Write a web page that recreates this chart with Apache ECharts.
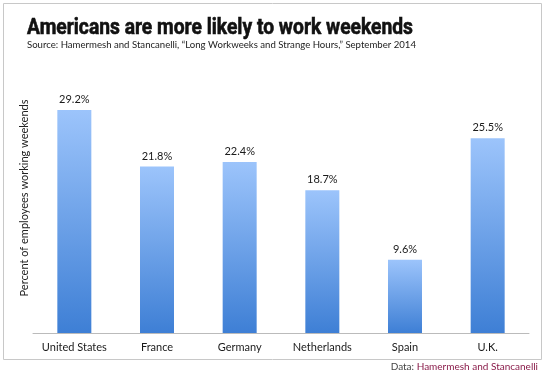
<!DOCTYPE html>
<html>
<head>
<meta charset="utf-8">
<script src="https://cdn.jsdelivr.net/npm/echarts@6/dist/echarts.min.js"></script>
<style>
  html, body { margin: 0; padding: 0; background: #fff; }
  #chart { width: 550px; height: 377px; }
</style>
</head>
<body>
<div id="chart"></div>
<script>
// data
const countries = ["United States", "France", "Germany", "Netherlands", "Spain", "U.K."];
const weekendShare = [29.2, 21.8, 22.4, 18.7, 9.6, 25.5];

const titleText = "Americans are more likely to work weekends";
const titleFont = "bold 22px Roboto";

// squeeze the title to the condensed width of the original
const ctx = document.createElement("canvas").getContext("2d");
ctx.font = titleFont;
const titleScale = 386 / ctx.measureText(titleText).width;

const chart = echarts.init(document.getElementById("chart"));

const option = {
  animation: false,
  graphic: [
    {
      type: "rect",
      shape: { x: 3.5, y: 3.5, width: 538, height: 356 },
      style: { fill: "none", stroke: "#c8c8c8", lineWidth: 1 },
      z: -1,
    },
    {
      type: "text",
      x: 27,
      y: 28,
      scaleX: titleScale,
      style: {
        text: titleText,
        font: titleFont,
        fill: "#111",
        verticalAlign: "middle",
        stroke: "#111",
        lineWidth: 0.6,
      },
    },
    {
      type: "text",
      left: 27,
      top: 40,
      style: {
        text: "Source: Hamermesh and Stancanelli, \u201cLong Workweeks and Strange Hours,\u201d September 2014",
        font: "9.6px Lato",
        fill: "#222",
      },
    },
    {
      type: "text",
      x: 24,
      y: 198,
      rotation: Math.PI / 2,
      style: {
        text: "Percent of employees working weekends",
        font: "11px Lato",
        fill: "#222",
        align: "center",
        verticalAlign: "middle",
      },
    },
    {
      type: "text",
      right: 12,
      top: 362,
      style: {
        rich: {
          a: { fill: "#444", font: "10px Lato" },
          b: { fill: "#8a1c4a", font: "10px Lato" },
        },
        text: "{a|Data: }{b|Hamermesh and Stancanelli}",
      },
    },
  ],
  grid: {
    left: 33,
    right: 21,
    top: 104,
    bottom: 44,
  },
  xAxis: {
    type: "category",
    data: countries,
    axisLine: { lineStyle: { color: "#bbb" } },
    axisTick: { show: false },
    axisLabel: {
      interval: 0,
      color: "#1a1a1a",
      fontFamily: "Lato",
      fontSize: 11,
      margin: 9,
    },
  },
  yAxis: {
    type: "value",
    min: 0,
    max: 30,
    splitLine: { show: false },
    axisLine: { show: false },
    axisTick: { show: false },
    axisLabel: { show: false },
  },
  series: [
    {
      type: "bar",
      data: weekendShare,
      barWidth: 34,
      itemStyle: {
        color: new echarts.graphic.LinearGradient(0, 0, 0, 1, [
          { offset: 0, color: "#9cc4fb" },
          { offset: 1, color: "#3e7fd5" },
        ]),
      },
      label: {
        show: true,
        position: "top",
        distance: 5,
        formatter: (p) => p.value.toFixed(1) + "%",
        color: "#1a1a1a",
        fontFamily: "Lato",
        fontSize: 11,
      },
    },
  ],
};

chart.setOption(option);
</script>
</body>
</html>
